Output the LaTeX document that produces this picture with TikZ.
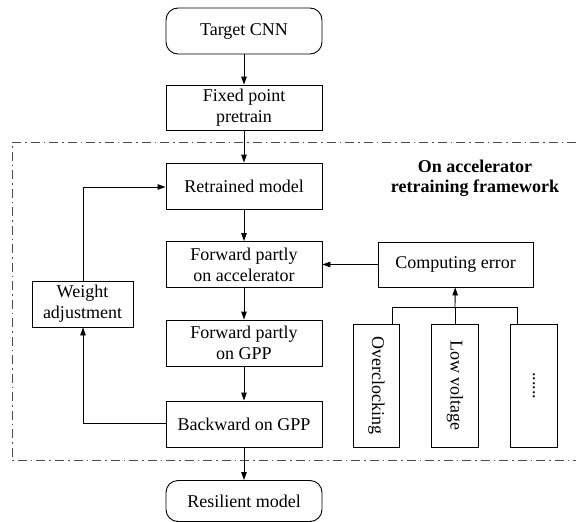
\documentclass[tikz,border=0pt]{standalone}
\usepackage{fontspec}
\setmainfont{Liberation Serif}
\usetikzlibrary{arrows.meta}
\begin{document}
\begin{tikzpicture}[x=1pt,y=-1pt,
  every node/.style={font=\fontsize{18}{21}\selectfont, align=center, inner sep=0pt},
  box/.style={draw, line width=0.9pt, minimum width=156pt, minimum height=46pt},
  rbox/.style={box, rounded corners=12pt},
  sidebox/.style={draw, line width=0.9pt, minimum width=123pt, minimum height=46.5pt, rotate=-90},
  conn/.style={line width=0.9pt},
  arr/.style={conn, -{Triangle[length=8pt,width=5.5pt]}},
  frame/.style={line width=0.9pt, black!70, dash pattern=on 9pt off 4pt on 1.5pt off 4pt}
]
\useasboundingbox (0,0) rectangle (576,522);

\node[rbox] (T) at (244,31) {Target CNN};
\node[box, minimum height=45pt] (F) at (244,107.5) {Fixed point\\pretrain};
\node[box] (R) at (244,186) {Retrained model};
\node[box] (A) at (244,264.5) {Forward partly\\on accelerator};
\node[box] (G) at (244,343) {Forward partly\\on GPP};
\node[box] (B) at (244,424) {Backward on GPP};
\node[rbox, minimum height=41pt] (S) at (244,501) {Resilient model};
\node[box, minimum width=101pt] (W) at (82.5,304) {Weight\\adjustment};
\node[box, minimum width=155pt, minimum height=45pt] (C) at (455.5,264.5) {Computing error};
\node[sidebox] (O1) at (376.5,385.5) {Overclocking};
\node[sidebox] (O2) at (455,385.5) {Low voltage};
\node[sidebox] (O3) at (534,385.5) {......};
\node[font=\bfseries\fontsize{18}{20}\selectfont] (title) at (475,178) {On accelerator\\retraining framework};

\draw[frame] (576,142) -- (12,142) -- (12,460) -- (576,460);

\draw[arr] (T) -- (F);
\draw[arr] (F) -- (R);
\draw[arr] (R) -- (A);
\draw[arr] (A) -- (G);
\draw[arr] (G) -- (B);
\draw[arr] (B) -- (S);
\draw[arr] (C) -- (A);

\coordinate (b1) at (392,307);
\coordinate (b2) at (455,307);
\coordinate (b3) at (517,307);
\draw[conn] (b1 |- O1.west) -- (b1) -- (b3) -- (b3 |- O3.west);
\draw[conn] (b2 |- O2.west) -- (b2);
\draw[arr] (b2) -- (C);

\coordinate (w1) at (83,423);
\coordinate (w2) at (83,187);
\draw[arr] (B.west |- w1) -- (w1) -- (w1 |- W.south);
\draw[arr] (W.north -| w2) -- (w2) -- (w2 -| R.west);
\end{tikzpicture}
\end{document}
